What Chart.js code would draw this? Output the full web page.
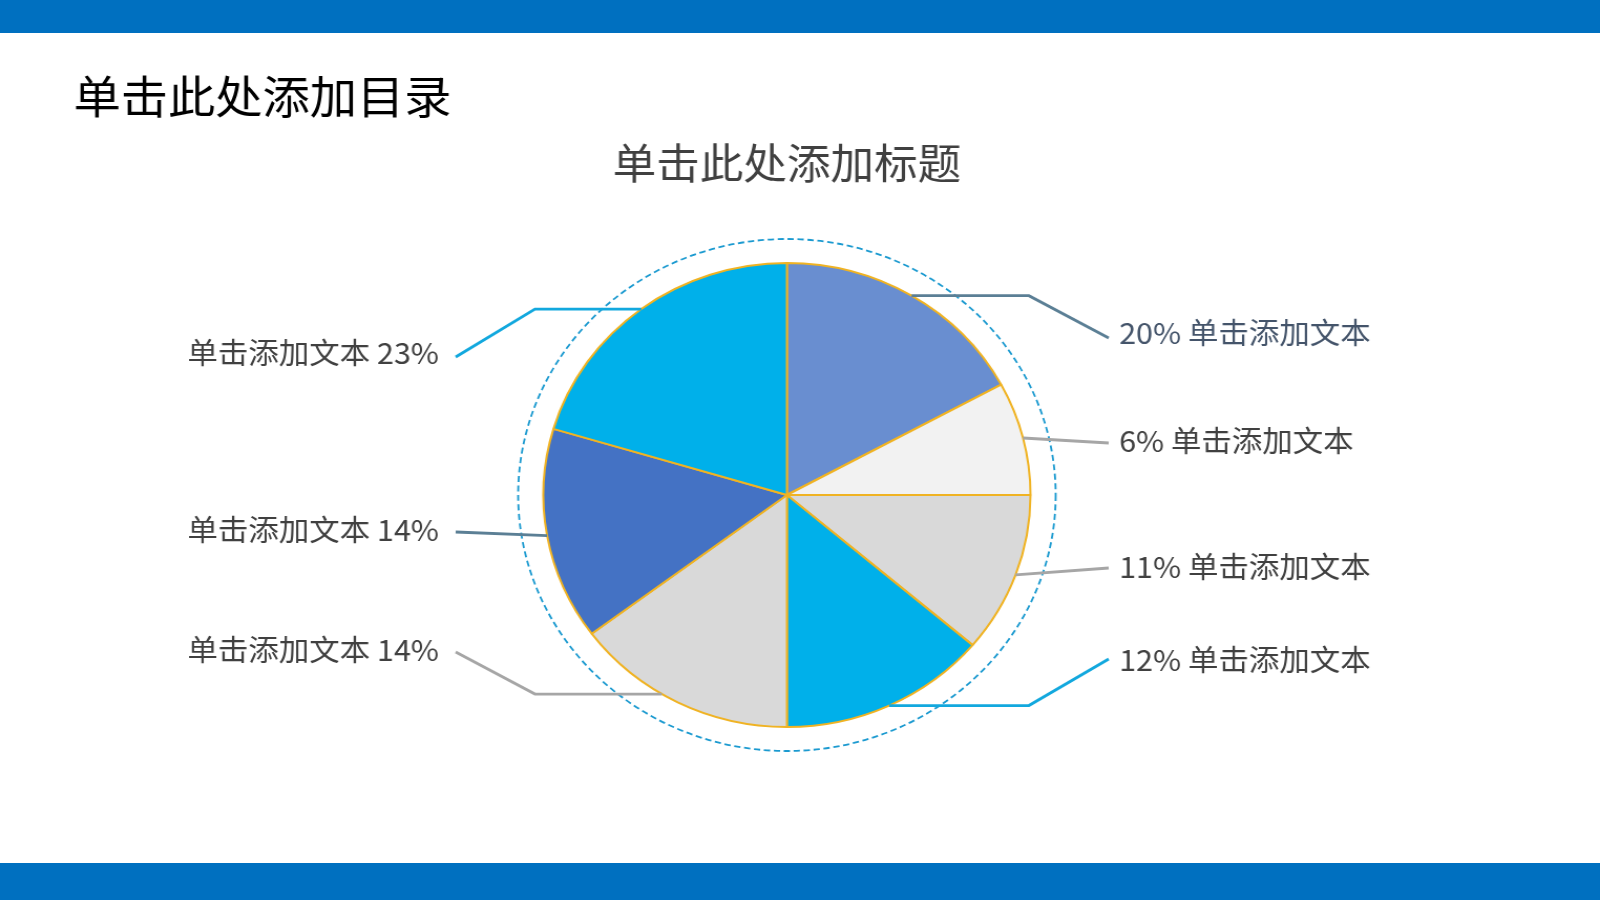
<!DOCTYPE html>
<html><head><meta charset="utf-8">
<script src="https://cdn.jsdelivr.net/npm/chart.js@4/dist/chart.umd.min.js"></script>
<style>
html,body{margin:0;padding:0;background:#fff;overflow:hidden;width:1600px;height:900px;}
#wrap{position:absolute;left:0;top:0;width:1524px;height:900px;transform:scaleX(1.0499);transform-origin:0 0;}
canvas{display:block}
</style></head><body>
<div id="wrap"><canvas id="c" width="1524" height="900"></canvas></div>
<script>
const pageTitle = '单击此处添加目录';
const chartTitle = '单击此处添加标题';
const categories = ['单击添加文本','单击添加文本','单击添加文本','单击添加文本','单击添加文本','单击添加文本','单击添加文本'];
const sliceValues = [17.1, 7.9, 11.2, 13.8, 14.8, 14.8, 20.4];
const percentLabels = ['20%','6%','11%','12%','14%','14%','23%'];
const sliceColors = ['#698ed0','#f2f2f2','#d9d9d9','#00b0ea','#d9d9d9','#4472c4','#00b0ea'];
const leaderColors = ['#5b7f95','#a6a6a6','#a6a6a6','#12a8de','#a6a6a6','#5b7f95','#12a8de'];
const labelColors = ['#44546a','#404040','#404040','#404040','#404040','#404040','#404040'];
const labelSides = ['right','right','right','right','left','left','left'];
const labelY = [333,441,567,660,650,530,353];
const lineEndY = [338,443,568,659,652,532,357];
const elbow = [true,false,false,true,true,false,true];
const anchorT = [0.5,0.5,0.5,0.5,0.58,0.5,0.5];

const W = 1524, H = 900;
const FONT = '"Noto Sans CJK SC", "Noto Sans", sans-serif';

const decor = {
  id: 'decor',
  beforeDraw(chart) {
    const ctx = chart.ctx;
    ctx.save();
    ctx.fillStyle = '#ffffff';
    ctx.fillRect(0, 0, W, H);
    ctx.fillStyle = '#0070c0';
    ctx.fillRect(0, 0, W, 33);
    ctx.fillRect(0, 863, W, H - 863);
    ctx.textBaseline = 'middle';
    ctx.fillStyle = '#000000';
    ctx.textAlign = 'left';
    ctx.font = '45px ' + FONT;
    ctx.fillText(pageTitle, 70, 97);
    ctx.fillStyle = '#404040';
    ctx.textAlign = 'center';
    ctx.font = '41.5px ' + FONT;
    ctx.fillText(chartTitle, 749.5, 163);
    ctx.restore();
  },
  afterDatasetsDraw(chart) {
    const ctx = chart.ctx;
    const arcs = chart.getDatasetMeta(0).data;
    const p0 = arcs[0].getProps(['x','y','outerRadius'], true);
    ctx.save();
    ctx.setLineDash([6, 3.5]);
    ctx.strokeStyle = '#1b9ad0';
    ctx.lineWidth = 1.8;
    ctx.beginPath();
    ctx.arc(p0.x, p0.y, p0.outerRadius + 24, 0, Math.PI * 2);
    ctx.stroke();
    ctx.setLineDash([]);
    ctx.lineWidth = 2.8;
    ctx.lineJoin = 'miter';
    arcs.forEach((arc, i) => {
      const p = arc.getProps(['x','y','startAngle','endAngle','outerRadius'], true);
      const a = p.startAngle + (p.endAngle - p.startAngle) * anchorT[i];
      const ax = p.x + Math.cos(a) * p.outerRadius;
      const ay = p.y + Math.sin(a) * p.outerRadius;
      const right = labelSides[i] === 'right';
      const endX = right ? 1056 : 434;
      ctx.strokeStyle = leaderColors[i];
      ctx.beginPath();
      ctx.moveTo(ax, ay);
      if (elbow[i]) ctx.lineTo(right ? 980 : 509.5, ay);
      ctx.lineTo(endX, lineEndY[i]);
      ctx.stroke();
      ctx.font = '29px ' + FONT;
      ctx.textBaseline = 'middle';
      ctx.fillStyle = labelColors[i];
      if (right) {
        ctx.textAlign = 'left';
        ctx.fillText(percentLabels[i] + ' ' + categories[i], 1066, labelY[i]);
      } else {
        ctx.textAlign = 'right';
        ctx.fillText(categories[i] + ' ' + percentLabels[i], 418, labelY[i]);
      }
    });
    ctx.restore();
  }
};

new Chart(document.getElementById('c'), {
  type: 'pie',
  data: {
    labels: categories,
    datasets: [{
      data: sliceValues,
      backgroundColor: sliceColors,
      borderColor: '#f0b323',
      borderWidth: 2,
      hoverOffset: 0,
      radius: 232
    }]
  },
  options: {
    responsive: false,
    animation: false,
    layout: { padding: { left: 449.5, right: 474.5, top: 195, bottom: 105 } },
    plugins: { legend: { display: false }, tooltip: { enabled: false }, title: { display: false } }
  },
  plugins: [decor]
});
</script>
</body></html>
